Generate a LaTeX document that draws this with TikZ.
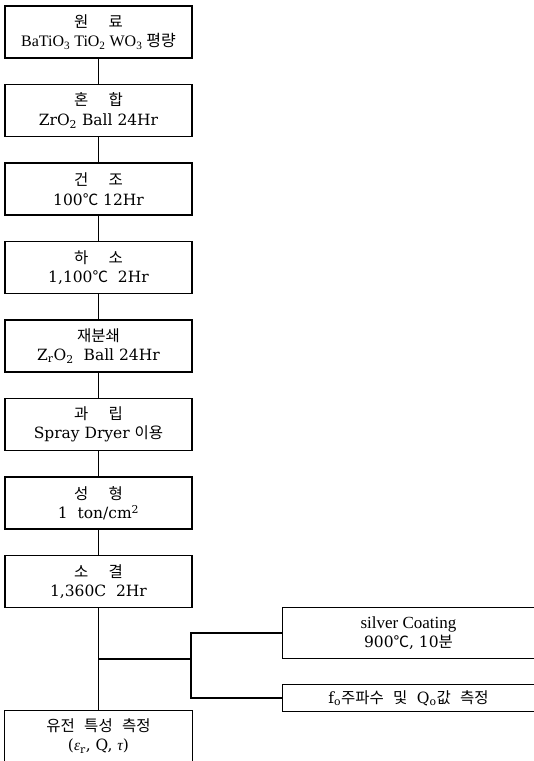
\documentclass[tikz,border=0pt]{standalone}
\usepackage{fontspec}
\setmainfont{DejaVu Serif}
\newfontfamily\kr{Noto Sans CJK KR}
\newfontfamily\lib{Liberation Serif}
\newcommand{\kgap}{\hspace{1.3em}}
\newcommand{\wgap}{\hspace{0.6em}}
\begin{document}
\begin{tikzpicture}[x=1pt,y=-1pt,
  box/.style={draw, line width=1.1pt, minimum width=187pt, minimum height=52pt, inner sep=0pt, align=center, font=\fontsize{15.5}{19.5}\selectfont},
  openbox/.style={draw=none, inner sep=0pt, align=center, font=\fontsize{15.5}{19.5}\selectfont},
  ln/.style={line width=1.1pt}]
\useasboundingbox (0,0) rectangle (534,761);
\node[box] (b1) at (98.5,32) {{\kr 원\kgap{}료}\\{\lib\fontsize{16}{19}\selectfont BaTiO\textsubscript{3} TiO\textsubscript{2} WO\textsubscript{3} {\kr 평량}}};
\node[box] (b2) at (98.5,110.5) {{\kr 혼\kgap{}합}\\ZrO\textsubscript{2} Ball 24Hr};
\node[box] (b3) at (98.5,189) {{\kr 건\kgap{}조}\\100{\kr ℃} 12Hr};
\node[box] (b4) at (98.5,267.5) {{\kr 하\kgap{}소}\\1,100{\kr ℃}\ \ 2Hr};
\node[box] (b5) at (98.5,346) {{\kr 재분쇄}\\Z\textsubscript{r}O\textsubscript{2}\ \ Ball 24Hr};
\node[box] (b6) at (98.5,424.5) {{\kr 과\kgap{}립}\\Spray Dryer {\kr 이용}};
\node[box] (b7) at (98.5,503) {{\kr 성\kgap{}형}\\1\ \ ton/cm\textsuperscript{2}};
\node[box] (b8) at (98.5,581.5) {{\kr 소\kgap{}결}\\1,360C\ \ 2Hr};
% final box, open at the bottom
\node[openbox, minimum width=187pt, minimum height=50pt] (b9) at (98.5,736) {{\kr 유전\wgap{}특성\wgap{}측정}\\({\lib\itshape ε}\textsubscript{r},\ Q,\ {\lib\itshape τ})};
\draw[ln] (b9.south west) -- (b9.north west) -- (b9.north east) -- (b9.south east);
% side boxes, open at the right
\node[openbox, minimum width=251pt, minimum height=50pt] (s) at (408.5,633) {{\lib\fontsize{17}{20}\selectfont silver Coating}\\900{\kr ℃},\ 10{\kr 분}};
\draw[ln] (s.north east) -- (s.north west) -- (s.south west) -- (s.south east);
\node[openbox, minimum width=251pt, minimum height=26pt] (f) at (408.5,698) {f\textsubscript{o}{\kr 주파수\wgap{}및\wgap{}}Q\textsubscript{o}{\kr 값\wgap{}측정}};
\draw[ln] (f.north east) -- (f.north west) -- (f.south west) -- (f.south east);
% connectors
\draw[ln] (b1) -- (b2);
\draw[ln] (b2) -- (b3);
\draw[ln] (b3) -- (b4);
\draw[ln] (b4) -- (b5);
\draw[ln] (b5) -- (b6);
\draw[ln] (b6) -- (b7);
\draw[ln] (b7) -- (b8);
\draw[ln] (b8.south) -- (b9.north);
\coordinate (j) at (98.5,659);
\coordinate (k) at (191,659);
\draw[ln] (j) -- (k);
\draw[ln] (s.west) -| (k) |- (f.west);
\end{tikzpicture}
\end{document}
